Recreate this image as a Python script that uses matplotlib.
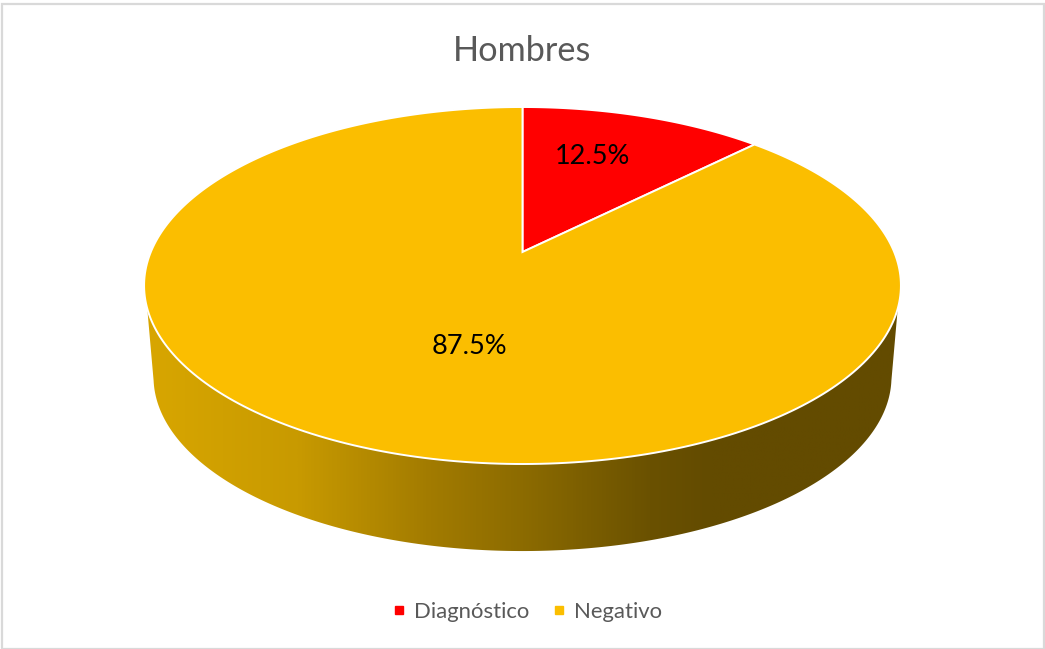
import numpy as np
import matplotlib
matplotlib.use("Agg")
import matplotlib.pyplot as plt
from matplotlib.colors import LinearSegmentedColormap
from matplotlib.lines import Line2D
from matplotlib.patches import Polygon, Rectangle

plt.rcParams['font.family'] = ['Lato', 'DejaVu Sans']

# Data
categories = ["Diagnóstico", "Negativo"]
shares = [12.5, 87.5]
colors = ["#FF0000", "#FBBE00"]
title = "Hombres"

# Layout of the tilted pie, in pixels of the 1045x649 picture
W, H = 1045, 649
CX, CY = 522.5, 285.5
X_SCALE = 371.7
Y_OFFSET, Y_SCALE, PERSPECTIVE = 33.5, 178.5, 0.1877
BASE_CY = 377.0
BASE_SCALE = 0.975
label_pos = [(592.5, 157), (469.5, 346)]


def project(angle, scale=1.0, cy=CY):
    # angle clockwise from the top of the pie, in degrees
    u = np.sin(np.radians(angle))
    v = np.cos(np.radians(angle))
    w = 1 + PERSPECTIVE * v
    x = CX + scale * X_SCALE * u / w
    y = cy - scale * (Y_OFFSET + Y_SCALE * v) / w
    return x, y


fig = plt.figure(figsize=(W / 100, H / 100), dpi=100)
ax = fig.add_axes([0, 0, 1, 1])
ax.set_xlim(0, W)
ax.set_ylim(H, 0)
ax.axis("off")

ax.add_patch(Rectangle((1.5, 4), W - 3, H - 4.5, fill=False, ec="#D9D9D9", lw=1.6))

# side wall with a shading from left to right
angles = np.linspace(60, 300, 800)
top_x, top_y = project(angles)
low_x, low_y = project(angles, BASE_SCALE, BASE_CY)
keep_top = top_y >= 308
keep_low = low_y >= 380
wall = np.vstack([
    np.column_stack([top_x[keep_top], top_y[keep_top]]),
    np.column_stack([low_x[keep_low], low_y[keep_low]])[::-1],
])
wall_patch = Polygon(wall, closed=True, fc="none", ec="none")
ax.add_patch(wall_patch)
shade = LinearSegmentedColormap.from_list(
    "wall",
    [(0.0, "#D8A600"), (0.2, "#C89A00"), (0.377, "#A27B00"), (0.5, "#8C6B00"),
     (0.67, "#6A5100"), (0.75, "#634B00"), (1.0, "#634B00")],
)
gradient = np.linspace(0, 1, 512).reshape(1, -1)
img = ax.imshow(gradient, cmap=shade, extent=(146, 900, 560, 300), aspect="auto", zorder=2)
img.set_clip_path(wall_patch)
ax.set_xlim(0, W)
ax.set_ylim(H, 0)

# top face
apex = (CX, CY - Y_OFFSET)
start = 0.0
for share, color in zip(shares, colors):
    sweep = share / sum(shares) * 360
    xs, ys = project(np.linspace(start, start + sweep, 300))
    pts = np.vstack([[apex], np.column_stack([xs, ys])])
    ax.add_patch(Polygon(pts, closed=True, fc=color, ec="white", lw=1.4, zorder=3))
    start += sweep

for pos, share in zip(label_pos, shares):
    ax.text(pos[0], pos[1], f"{share}%", ha="center", va="center", fontsize=19.5,
            color="black", zorder=4)

ax.text(W / 2, 51, title, ha="center", va="center", fontsize=24.7, color="#595959")

handles = [
    Line2D([], [], ls="none", marker="s", ms=6, mfc=c, mec=c, label=n)
    for n, c in zip(categories, colors)
]
ax.legend(handles=handles, loc="center", bbox_to_anchor=(525 / W, 1 - 612 / H), ncol=2,
          frameon=False, fontsize=15.9, labelcolor="#595959", handletextpad=0.18,
          columnspacing=0.82, handlelength=1.0)

fig.savefig("out.png", dpi=100)
